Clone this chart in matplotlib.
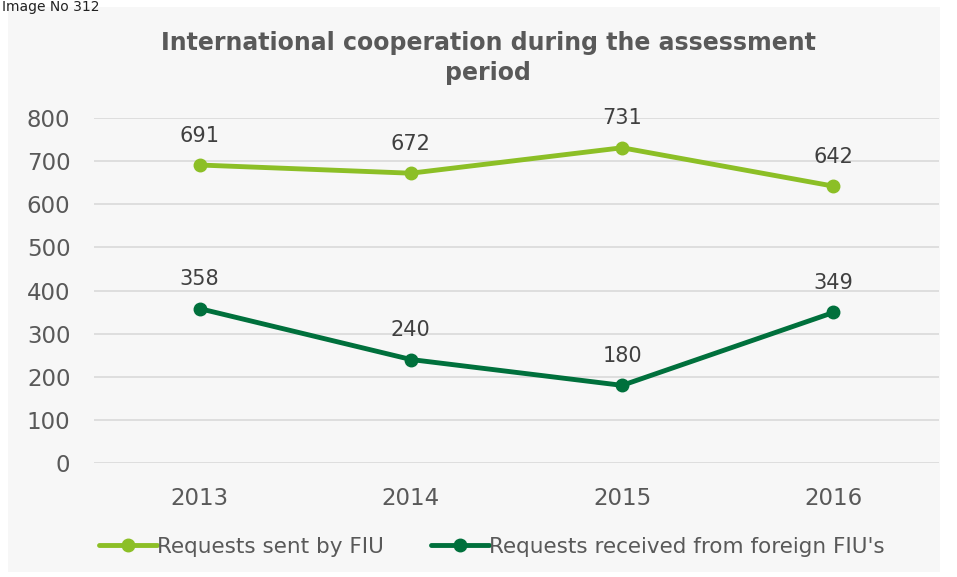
import matplotlib
matplotlib.use("Agg")
import matplotlib.pyplot as plt
from matplotlib.patches import Rectangle

years = ["2013", "2014", "2015", "2016"]
sent = [691, 672, 731, 642]
received = [358, 240, 180, 349]
series_names = ["Requests sent by FIU", "Requests received from foreign FIU's"]
title = "International cooperation during the assessment\nperiod"

W, H = 957, 577
fig = plt.figure(figsize=(W / 100, H / 100), dpi=100)
fig.patch.set_facecolor("white")
plt.rcParams["font.family"] = ["DejaVu Sans"]

# gray chart panel
fig.patches.append(Rectangle((8 / W, 5 / H), (940 - 8) / W, (570 - 5) / H,
                             transform=fig.transFigure, facecolor="#f7f7f7",
                             edgecolor="none", zorder=-5))
fig.text(2 / W, 1.0, "Image No 312", fontsize=10, color="#222222",
         ha="left", va="top")

ax = fig.add_axes([94 / W, 1 - 463 / H, (939 - 94) / W, (463 - 118) / H])
ax.set_facecolor("none")
ax.set_zorder(2)
x = list(range(len(years)))
c1, c2 = "#8cbf26", "#00703c"
l1, = ax.plot(x, sent, color=c1, lw=3.5, marker="o", ms=9, solid_capstyle="round")
l2, = ax.plot(x, received, color=c2, lw=3.5, marker="o", ms=9, solid_capstyle="round")
for xi, v in zip(x, sent):
    ax.annotate(str(v), (xi, v), xytext=(0, 14), textcoords="offset points",
                ha="center", va="bottom", fontsize=15, color="#404040")
for xi, v in zip(x, received):
    ax.annotate(str(v), (xi, v), xytext=(0, 14), textcoords="offset points",
                ha="center", va="bottom", fontsize=15, color="#404040")

ax.set_xlim(-0.5, 3.5)
ax.set_ylim(0, 800)
ax.set_yticks(range(0, 801, 100))
ax.set_xticks(x)
ax.set_xticklabels(years)
ax.grid(axis="y", color="#d9d9d9", lw=1.2)
ax.set_axisbelow(True)
for s in ax.spines.values():
    s.set_visible(False)
ax.tick_params(axis="both", length=0, labelsize=16.5, labelcolor="#595959")
ax.tick_params(axis="y", pad=17)
ax.tick_params(axis="x", pad=17)

fig.text(488 / W, 1 - 58 / H, title, ha="center", va="center", fontsize=17,
         fontweight="bold", color="#595959", linespacing=1.35)

leg = fig.legend([l1, l2], series_names, loc="center", bbox_to_anchor=(492 / W, 1 - 547 / H),
                 ncol=2, frameon=False, fontsize=15.5, handlelength=2.7, handletextpad=0.0,
                 columnspacing=2.2, labelcolor="#595959")

fig.savefig("out.png", dpi=100, facecolor=fig.get_facecolor())
